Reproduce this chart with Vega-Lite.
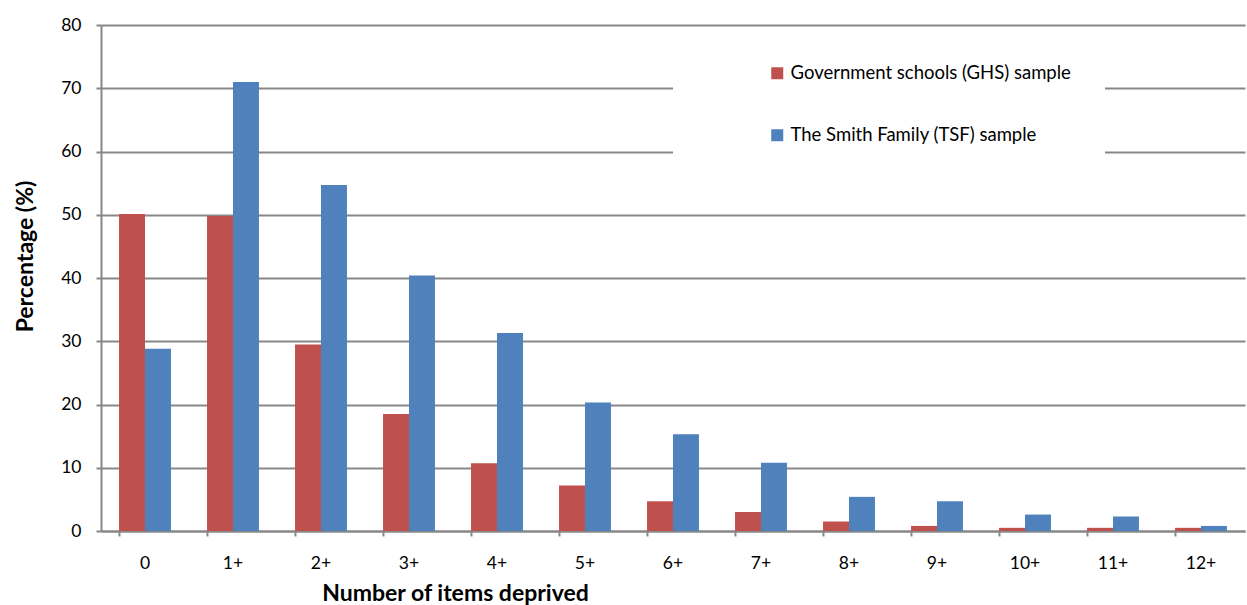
{
  "$schema": "https://vega.github.io/schema/vega-lite/v6.json",
  "width": 1144,
  "height": 506,
  "autosize": {"type": "none"},
  "padding": {"left": 101, "top": 25, "right": 2, "bottom": 74},
  "background": "white",
  "config": {
    "font": "Lato",
    "view": {"stroke": null},
    "axis": {
      "domainColor": "#878787",
      "domainWidth": 2,
      "tickColor": "#878787",
      "tickWidth": 2,
      "tickSize": 5,
      "gridColor": "#878787",
      "gridWidth": 2,
      "labelColor": "#000000",
      "labelFont": "Lato",
      "labelFontSize": 17.5,
      "titleColor": "#000000",
      "titleFont": "Lato",
      "titleFontWeight": "bold",
      "titleFontSize": 23
    }
  },
  "data": {
    "values": [
      {"items": "0", "sample": "Government schools (GHS) sample", "pct": 50.1},
      {"items": "0", "sample": "The Smith Family (TSF) sample", "pct": 28.8},
      {"items": "1+", "sample": "Government schools (GHS) sample", "pct": 49.8},
      {"items": "1+", "sample": "The Smith Family (TSF) sample", "pct": 71.0},
      {"items": "2+", "sample": "Government schools (GHS) sample", "pct": 29.5},
      {"items": "2+", "sample": "The Smith Family (TSF) sample", "pct": 54.7},
      {"items": "3+", "sample": "Government schools (GHS) sample", "pct": 18.5},
      {"items": "3+", "sample": "The Smith Family (TSF) sample", "pct": 40.4},
      {"items": "4+", "sample": "Government schools (GHS) sample", "pct": 10.7},
      {"items": "4+", "sample": "The Smith Family (TSF) sample", "pct": 31.3},
      {"items": "5+", "sample": "Government schools (GHS) sample", "pct": 7.2},
      {"items": "5+", "sample": "The Smith Family (TSF) sample", "pct": 20.3},
      {"items": "6+", "sample": "Government schools (GHS) sample", "pct": 4.7},
      {"items": "6+", "sample": "The Smith Family (TSF) sample", "pct": 15.3},
      {"items": "7+", "sample": "Government schools (GHS) sample", "pct": 3.0},
      {"items": "7+", "sample": "The Smith Family (TSF) sample", "pct": 10.8},
      {"items": "8+", "sample": "Government schools (GHS) sample", "pct": 1.5},
      {"items": "8+", "sample": "The Smith Family (TSF) sample", "pct": 5.4},
      {"items": "9+", "sample": "Government schools (GHS) sample", "pct": 0.8},
      {"items": "9+", "sample": "The Smith Family (TSF) sample", "pct": 4.7},
      {"items": "10+", "sample": "Government schools (GHS) sample", "pct": 0.5},
      {"items": "10+", "sample": "The Smith Family (TSF) sample", "pct": 2.6},
      {"items": "11+", "sample": "Government schools (GHS) sample", "pct": 0.5},
      {"items": "11+", "sample": "The Smith Family (TSF) sample", "pct": 2.3},
      {"items": "12+", "sample": "Government schools (GHS) sample", "pct": 0.5},
      {"items": "12+", "sample": "The Smith Family (TSF) sample", "pct": 0.8}
    ]
  },
  "mark": {"type": "bar"},
  "encoding": {
    "x": {
      "field": "items",
      "type": "nominal",
      "sort": null,
      "scale": {"paddingInner": 0.41, "paddingOuter": 0.205},
      "axis": {
        "title": "Number of items deprived",
        "labelAngle": 0,
        "bandPosition": 0,
        "labelDx": 44,
        "labelPadding": 18,
        "labelBaseline": "top",
        "titleX": 354,
        "titleY": 62,
        "titleBaseline": "middle",
        "titleAnchor": "middle"
      }
    },
    "xOffset": {"field": "sample", "type": "nominal", "sort": null},
    "y": {
      "field": "pct",
      "type": "quantitative",
      "scale": {"domain": [0, 80]},
      "axis": {
        "title": "Percentage (%)",
        "values": [0, 10, 20, 30, 40, 50, 60, 70, 80],
        "labelPadding": 15,
        "titleX": -76,
        "titleY": 231,
        "titleBaseline": "middle",
        "titleAnchor": "middle"
      }
    },
    "color": {
      "field": "sample",
      "type": "nominal",
      "sort": null,
      "scale": {"range": ["#C0504D", "#4F81BD"]},
      "legend": {
        "title": null,
        "orient": "none",
        "legendX": 572,
        "legendY": 5,
        "fillColor": "white",
        "padding": 34,
        "symbolType": "square",
        "symbolSize": 144,
        "symbolStrokeWidth": 0,
        "symbolOffset": 61,
        "labelOffset": 4,
        "labelFont": "Lato",
        "labelFontSize": 18.5,
        "labelColor": "#000000",
        "labelLimit": 0,
        "rowPadding": 43
      }
    }
  }
}
